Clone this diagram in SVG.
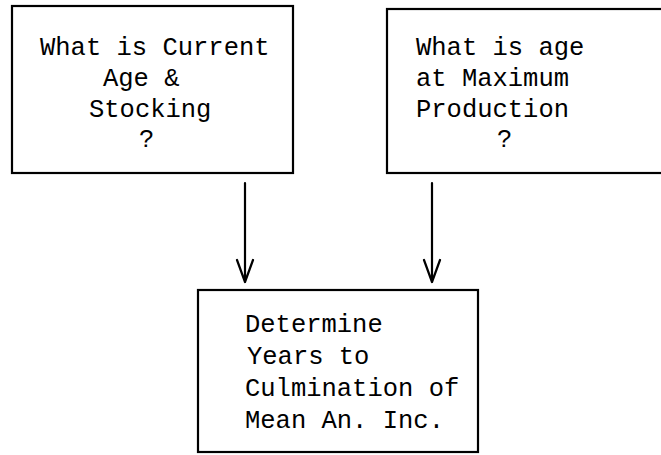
<svg xmlns="http://www.w3.org/2000/svg" width="661" height="455" viewBox="0 0 661 455">
  <style>
    .box { fill: #ffffff; stroke: #000000; stroke-width: 2.2; }
    .label { font-family: "Liberation Mono", "DejaVu Sans Mono", monospace; font-size: 25.5px; fill: #000000; }
    .edge { fill: none; stroke: #000000; stroke-width: 2.2; stroke-linecap: round; stroke-linejoin: round; }
  </style>
  <rect width="661" height="455" fill="#ffffff"/>

  <g id="node-current-age">
    <rect class="box" x="12" y="6" width="281" height="167"/>
    <text class="label" x="40" y="55">What is Current</text>
    <text class="label" x="103" y="86">Age &amp;</text>
    <text class="label" x="89" y="117">Stocking</text>
    <text class="label" x="139" y="147">?</text>
  </g>

  <g id="node-max-production">
    <rect class="box" x="387" y="9" width="285" height="164"/>
    <text class="label" x="416" y="55">What is age</text>
    <text class="label" x="416" y="86">at Maximum</text>
    <text class="label" x="416" y="117">Production</text>
    <text class="label" x="497" y="147">?</text>
  </g>

  <g id="node-culmination">
    <rect class="box" x="198" y="290" width="280" height="162"/>
    <text class="label" x="245" y="332">Determine</text>
    <text class="label" x="247" y="364">Years to</text>
    <text class="label" x="245" y="396">Culmination of</text>
    <text class="label" x="245" y="428">Mean An. Inc.</text>
  </g>

  <g id="connectors">
    <path class="edge" d="M245 183 V282 M237 260 L245 282 L253 260"/>
    <path class="edge" d="M432 183 V282 M424 260 L432 282 L440 260"/>
  </g>
</svg>
